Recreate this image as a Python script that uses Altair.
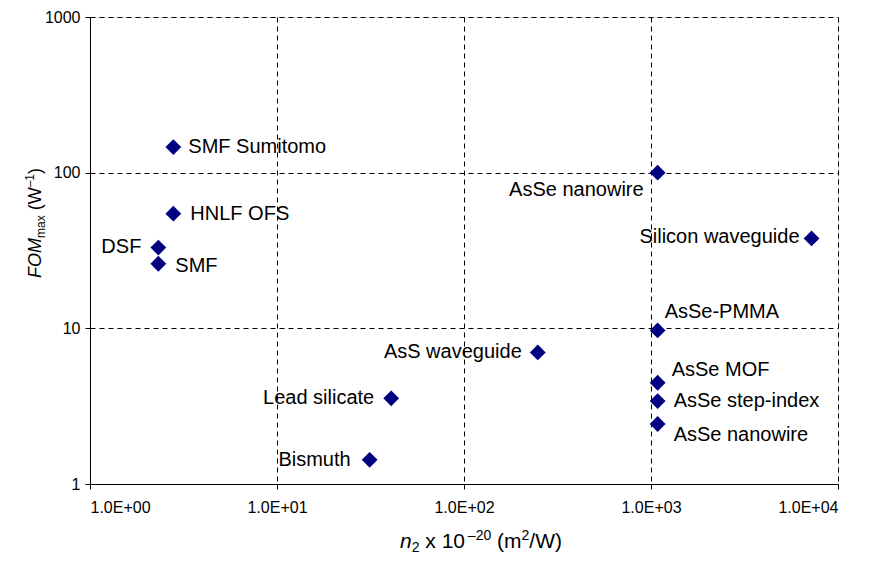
import altair as alt
import pandas as pd

# ---------------- data ----------------
names = ["SMF Sumitomo", "HNLF OFS", "DSF", "SMF", "AsSe nanowire",
         "Silicon waveguide", "AsSe-PMMA", "AsS waveguide", "AsSe MOF",
         "AsSe step-index", "AsSe nanowire", "Lead silicate", "Bismuth"]
n2 = [2.79, 2.79, 2.32, 2.32, 1085, 7220, 1085, 248, 1085, 1085, 1085, 40.8, 31.3]
fom = [146, 54.5, 33, 26, 100, 37.8, 9.7, 7.0, 4.47, 3.41, 2.43, 3.55, 1.43]

x_ticks = [1, 10, 100, 1000, 10000]
y_ticks = [1, 10, 100, 1000]

df = pd.DataFrame({"idx": list(range(len(names))), "name": names, "n2": n2, "fom": fom})

# ---------------- layout ----------------
FONT = "Liberation Sans"
W, H = 748, 467
NAVY = "#000080"

# label placement per point index: (align, dx, dy)
placement = {
    0: ("left", 15, 0), 1: ("left", 17, 0), 2: ("right", -17, -1), 3: ("left", 17, 2),
    4: ("right", -14, 17), 5: ("right", -12, -1), 6: ("left", 7, -18), 7: ("right", -16, 0),
    8: ("left", 14, -13), 9: ("left", 16, 0), 10: ("left", 16, 11), 11: ("right", -17, 0),
    12: ("right", -19, 0),
}

xs = alt.Scale(type="log", domain=[1, 10000], nice=False)
ys = alt.Scale(type="log", domain=[1, 1000], nice=False)

axis_common = dict(grid=True, gridDash=[5, 4], gridColor="#000000", gridWidth=1, gridOpacity=1,
                   domainColor="#000000", tickColor="#000000", tickSize=5, labelColor="#000000",
                   labelFont=FONT, labelFontSize=16, title=None)

points = alt.Chart(df).mark_point(shape="diamond", filled=True, size=250, color=NAVY, opacity=1).encode(
    x=alt.X("n2:Q", scale=xs, axis=alt.Axis(values=x_ticks, labelPadding=10,
            labelExpr="'1.0E+0' + format(round(log(datum.value)/LN10), 'd')", **axis_common)),
    y=alt.Y("fom:Q", scale=ys, axis=alt.Axis(values=y_ticks, labelPadding=5,
            labelExpr="format(datum.value, 'd')", **axis_common)),
)

layers = [points]
for i, (al, dx, dy) in placement.items():
    layers.append(
        alt.Chart(df).transform_filter(alt.datum.idx == i).mark_text(
            align=al, baseline="middle", dx=dx, dy=dy, font=FONT, fontSize=20, color="black"
        ).encode(x=alt.X("n2:Q", scale=xs), y=alt.Y("fom:Q", scale=ys), text="name:N")
    )

anchor = pd.DataFrame({"a": [0]})
EM = {"n": .556, "2": .556, "x": .5, "1": .556, "0": .556, "–": .556, "(": .333, "m": .833,
      "/": .278, "W": .944, ")": .333, "F": .611, "O": .778, "M": .833, "a": .556}
SP = .278


def width(t, s):
    return sum(EM.get(c, .556) for c in t) * s


def piece(t, x, y, s, italic=False, angle=0):
    return alt.Chart(anchor).mark_text(
        text=t, font=FONT, fontSize=s, fontStyle="italic" if italic else "normal",
        align="left", baseline="alphabetic", angle=angle, color="black"
    ).encode(x=alt.value(x), y=alt.value(y))


# x title: n2 x 10^-20 (m^2/W)
XS, XSS = 21, 14
xt = [("n", XS, True, 0, 0), ("2", XSS, False, 4, 0), ("x 10", XS, False, 0, SP * XS),
      ("–20", XSS, False, -8, -3), ("(m", XS, False, 0, SP * XS), ("2", XSS, False, -8, 0),
      ("/W)", XS, False, 0, 0)]
total = sum(width(t, s) + g for t, s, _, _, g in xt)
cx = 391 - total / 2
base = 531
for t, s, it, off, gap in xt:
    cx += gap
    layers.append(piece(t, cx, base + off, s, it))
    cx += width(t, s)

# y title: FOM_max (W^-1), rotated
YS, YSS = 18, 12
yt = [("FOM", YS, True, 0, 0), ("max", YSS, False, 4, 0), ("(W", YS, False, 0, SP * YS),
      ("–1", YSS, False, -7, 0), (")", YS, False, 0, 0)]
total = sum(width(t, s) + g for t, s, _, _, g in yt)
cy = 206 + total / 2
bx = -49
for t, s, it, off, gap in yt:
    cy -= gap
    layers.append(piece(t, bx + off, cy, s, it, angle=270))
    cy -= width(t, s)

chart = alt.layer(*layers).properties(
    width=W, height=H,
    autosize=alt.AutoSizeParams(type="none"),
    padding={"left": 82, "top": 9, "right": 28, "bottom": 70},
).configure_view(stroke="#000000", strokeWidth=1).configure(background="white")

chart.save("out.html", embed_options={"renderer": "svg", "actions": False})
